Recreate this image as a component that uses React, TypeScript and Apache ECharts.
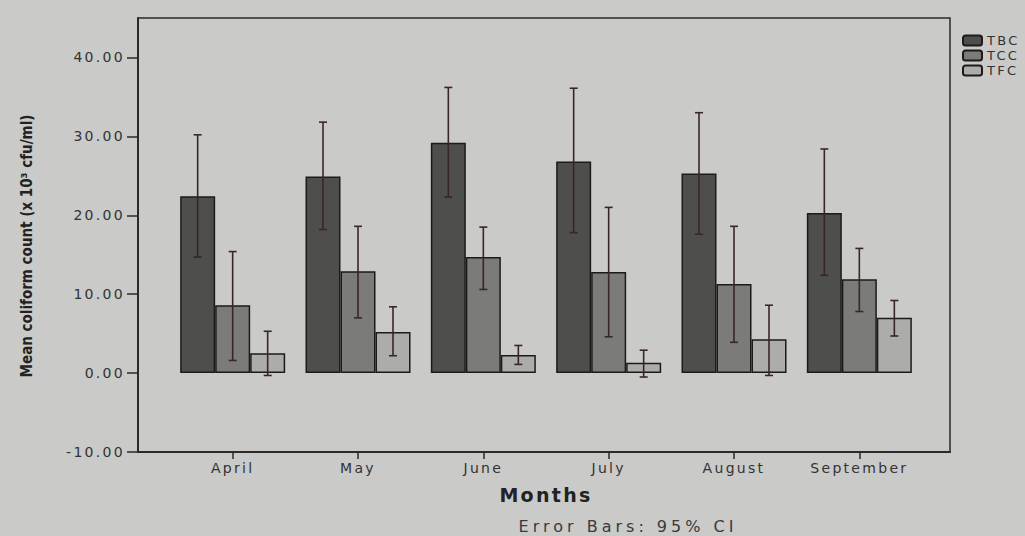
import React, { useEffect, useRef } from "react";
import * as echarts from "echarts";

const months = ["April", "May", "June", "July", "August", "September"];
const seriesNames = ["TBC", "TCC", "TFC"];
const tbcMean = [22.4, 24.9, 29.2, 26.8, 25.3, 20.3];
const tccMean = [8.6, 12.9, 14.7, 12.8, 11.3, 11.9];
const tfcMean = [2.5, 5.2, 2.3, 1.3, 4.3, 7.0];
const tbcLow = [14.7, 18.2, 22.3, 17.8, 17.6, 12.4];
const tbcHigh = [30.2, 31.8, 36.2, 36.1, 33.0, 28.4];
const tccLow = [1.6, 7.0, 10.6, 4.6, 3.9, 7.8];
const tccHigh = [15.4, 18.6, 18.5, 21.0, 18.6, 15.8];
const tfcLow = [-0.3, 2.2, 1.1, -0.5, -0.3, 4.7];
const tfcHigh = [5.3, 8.4, 3.5, 2.9, 8.6, 9.2];
const yTicks = [-10, 0, 10, 20, 30, 40];

const BAR_W = 35;
const colors = ["#4e4e4d", "#7b7b7a", "#acacab"];
const FONT = "'DejaVu Sans', sans-serif";
const FONT_WIDE = "'DejaVu Sans', Verdana, sans-serif";
const FONT_COND = "'DejaVu Sans Condensed', 'Liberation Sans Narrow', sans-serif";

const css = `
.ecwrap text { letter-spacing: 2.3px; }
.ecwrap text[style*="Verdana"] { letter-spacing: 4px; }
.ecwrap text[style*="Condensed"] { letter-spacing: 0px; }
`;

export default function App() {
  const ref = useRef<HTMLDivElement>(null);
  useEffect(() => {
    if (!ref.current) return;
    const chart = echarts.init(ref.current, null, { renderer: "svg" });
    const means = [tbcMean, tccMean, tfcMean];
    const lows = [tbcLow, tccLow, tfcLow];
    const highs = [tbcHigh, tccHigh, tfcHigh];

    const barSeries = seriesNames.map((name, k) => ({
      name,
      type: "bar",
      xAxisIndex: 1,
      yAxisIndex: 1,
      data: means[k],
      barWidth: BAR_W,
      barGap: "0%",
      itemStyle: { color: colors[k], borderColor: "#1e1a1a", borderWidth: 1.5 },
      z: 2,
    }));

    const errSeries = seriesNames.map((name, k) => ({
      name: name + "_err",
      type: "custom",
      xAxisIndex: 1,
      yAxisIndex: 1,
      z: 5,
      encode: { x: 0, y: [1, 2] },
      data: months.map((_, i) => [i, lows[k][i], highs[k][i]]),
      renderItem: (params: any, api: any) => {
        const c = api.value(0);
        const pLo = api.coord([c, api.value(1)]);
        const pHi = api.coord([c, api.value(2)]);
        const x = pLo[0] + (k - 1) * BAR_W;
        const cap = 4;
        const st = { stroke: "#3a2626", lineWidth: 1.6 };
        return {
          type: "group",
          children: [
            { type: "line", shape: { x1: x, y1: pLo[1], x2: x, y2: pHi[1] }, style: st },
            { type: "line", shape: { x1: x - cap, y1: pHi[1], x2: x + cap, y2: pHi[1] }, style: st },
            { type: "line", shape: { x1: x - cap, y1: pLo[1], x2: x + cap, y2: pLo[1] }, style: st },
          ],
        };
      },
    }));

    chart.setOption({
      animation: false,
      backgroundColor: "#cacac8",
      legend: {
        data: seriesNames,
        orient: "vertical",
        left: 957,
        top: 29,
        itemWidth: 19,
        itemHeight: 10,
        itemGap: 2,
        textStyle: { fontSize: 13, lineHeight: 13, color: "#333", fontFamily: FONT },
      },
      title: {
        text: "Error Bars: 95% CI",
        left: 628,
        textAlign: "center",
        top: 518,
        padding: 0,
        textStyle: { fontSize: 16, lineHeight: 16, fontWeight: "normal", color: "#3a3a3a", fontFamily: FONT_WIDE },
      },
      grid: [
        { left: 138, right: 75, top: 18, bottom: 84, show: true, borderColor: "#2a2a2a", borderWidth: 1.5, backgroundColor: "transparent" },
        { left: 170, right: 103, top: 18, bottom: 84 },
      ],
      xAxis: [
        {
          type: "value",
          gridIndex: 0,
          min: 0,
          max: 1,
          axisLine: { show: true, onZero: false, lineStyle: { color: "#2a2a2a", width: 2 } },
          axisTick: { show: false },
          axisLabel: { show: false },
          splitLine: { show: false },
        },
        {
          type: "category",
          gridIndex: 1,
          data: months,
          axisLine: { show: false, onZero: false },
          axisTick: { show: true, alignWithLabel: true, length: 7, lineStyle: { color: "#2a2a2a", width: 1.5 } },
          axisLabel: { fontSize: 14, color: "#333", margin: 9, fontFamily: FONT },
          name: "Months",
          nameLocation: "middle",
          nameGap: 33,
          nameTextStyle: { fontSize: 19, fontWeight: "bold", color: "#222", fontFamily: FONT },
        },
      ],
      yAxis: [
        {
          type: "value",
          gridIndex: 0,
          min: -10,
          max: 45,
          axisLine: { show: true, lineStyle: { color: "#2a2a2a", width: 2 } },
          axisTick: { show: true, length: 11, customValues: yTicks, lineStyle: { color: "#2a2a2a", width: 1.5 } },
          axisLabel: {
            customValues: yTicks,
            formatter: (v: number) => v.toFixed(2),
            fontSize: 14,
            color: "#333",
            margin: 13,
            fontFamily: FONT,
          },
          splitLine: { show: false },
          name: "Mean coliform count (x 10\u00b3 cfu/ml)",
          nameLocation: "middle",
          nameGap: 104,
          nameTextStyle: { fontSize: 15, fontWeight: "bold", color: "#222", fontFamily: FONT_COND, padding: [0, 22, 0, 0] },
        },
        {
          type: "value",
          gridIndex: 1,
          min: -10,
          max: 45,
          show: false,
          splitLine: { show: false },
        },
      ],
      series: [...barSeries, ...errSeries],
    });
    return () => chart.dispose();
  }, []);
  return (
    <>
      <style>{css}</style>
      <div className="ecwrap" ref={ref} style={{ position: "absolute", left: 0, top: 0, width: 1025, height: 536 }} />
    </>
  );
}
